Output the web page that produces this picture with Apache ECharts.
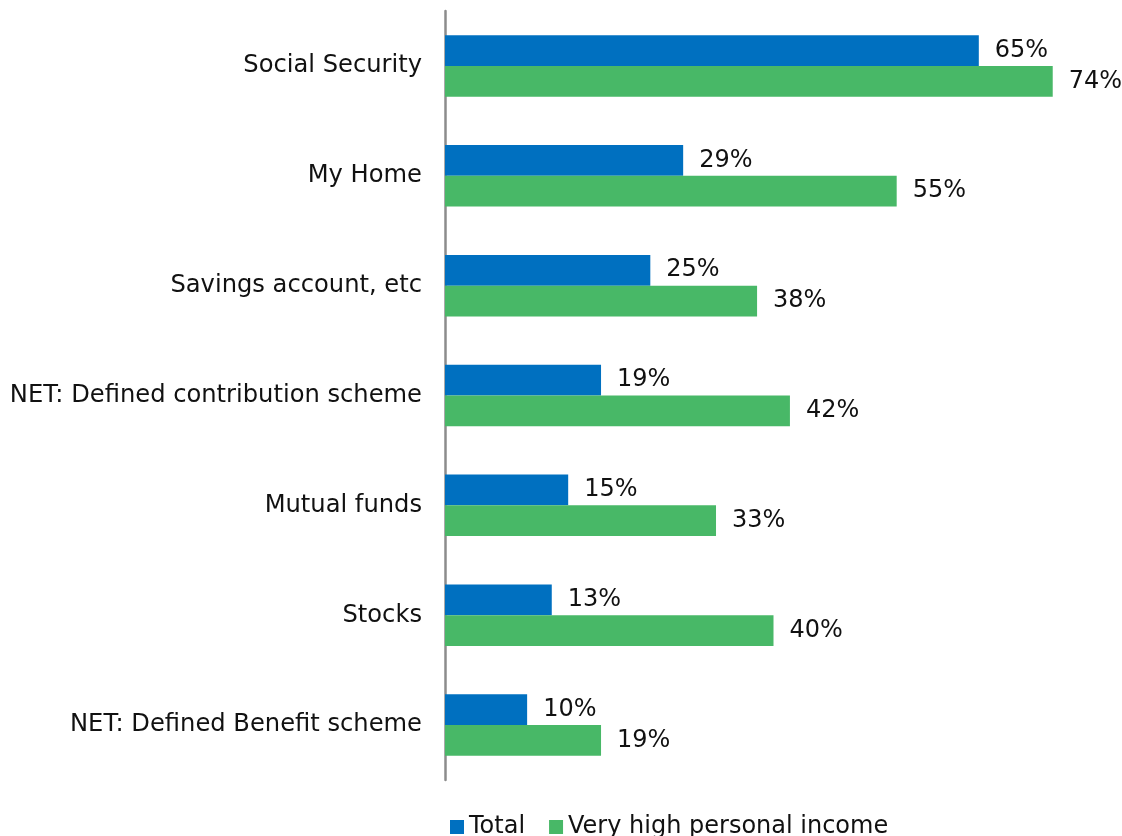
<!DOCTYPE html>
<html>
<head>
<meta charset="utf-8">
<script src="https://cdn.jsdelivr.net/npm/echarts@6/dist/echarts.min.js"></script>
<style>
  html, body { margin: 0; padding: 0; background: #fff; }
  #chart { width: 1122px; height: 836px; }
</style>
</head>
<body>
<div id="chart"></div>
<script>
// Retirement income sources, share of respondents (%)
const categories = [
  'Social Security',
  'My Home',
  'Savings account, etc',
  'NET: Defined contribution scheme',
  'Mutual funds',
  'Stocks',
  'NET: Defined Benefit scheme'
];
const totalValues = [65, 29, 25, 19, 15, 13, 10];
const highIncomeValues = [74, 55, 38, 42, 33, 40, 19];
const seriesNames = ['Total', 'Very high personal income'];

const FONT = '"DejaVu Sans", Verdana, sans-serif';

const chart = echarts.init(document.getElementById('chart'));

const valueLabel = {
  show: true,
  position: 'right',
  distance: 16,
  formatter: p => p.value + '%',
  fontFamily: FONT,
  fontSize: 24,
  color: '#111'
};

chart.setOption({
  animation: false,
  backgroundColor: '#fff',
  grid: { left: 445, right: 20, top: 11, bottom: 56, containLabel: false },
  xAxis: {
    type: 'value',
    min: 0,
    max: 80,
    show: false
  },
  yAxis: {
    type: 'category',
    data: categories,
    inverse: true,
    axisLine: { show: true, lineStyle: { color: '#8c8c8c', width: 2.5 } },
    axisTick: { show: false },
    axisLabel: {
      margin: 23,
      fontFamily: FONT,
      fontSize: 24.2,
      color: '#111'
    }
  },
  legend: {
    data: seriesNames,
    left: 445,
    top: 810,
    icon: 'rect',
    itemWidth: 14,
    itemHeight: 14,
    itemGap: 24,
    textStyle: { fontFamily: FONT, fontSize: 24, color: '#111' }
  },
  series: [
    {
      name: seriesNames[0],
      type: 'bar',
      data: totalValues,
      barGap: '0%',
      barCategoryGap: '44%',
      itemStyle: { color: '#0070C0' },
      label: valueLabel
    },
    {
      name: seriesNames[1],
      type: 'bar',
      data: highIncomeValues,
      barGap: '0%',
      barCategoryGap: '44%',
      itemStyle: { color: '#48B867' },
      label: valueLabel
    }
  ]
});
</script>
</body>
</html>
